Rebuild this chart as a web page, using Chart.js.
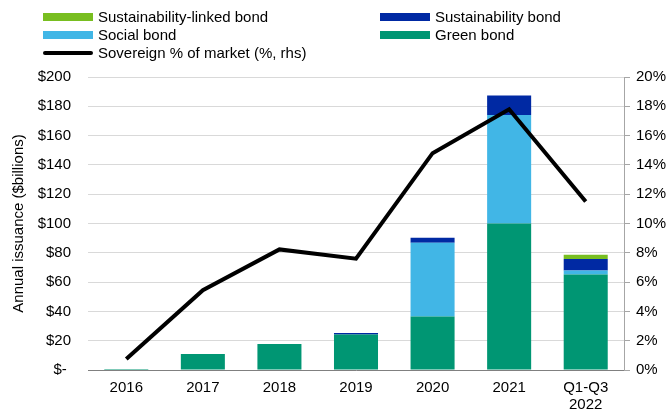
<!DOCTYPE html>
<html>
<head>
<meta charset="utf-8">
<script src="https://cdn.jsdelivr.net/npm/chart.js@4/dist/chart.umd.min.js"></script>
<style>
  html, body { margin: 0; padding: 0; background: #fff; }
  #wrap { position: relative; width: 666px; height: 411px; font-family: "Liberation Sans", Arial, sans-serif; }
  #grafico { position: absolute; left: 0; top: 0; }
  .leg { position: absolute; font-size: 15px; color: #000; line-height: 16px; white-space: nowrap; }
  .leg span.cor { position: absolute; left: 0; top: 4px; width: 50px; height: 8px; }
  .leg span.linha { position: absolute; left: 0; top: 6px; width: 50px; height: 4px; background: #000; border-radius: 2px; }
  .leg span.txt { position: absolute; left: 55px; top: 0; }
</style>
</head>
<body>
<div id="wrap">
  <canvas id="grafico" width="666" height="411"></canvas>
  <div class="leg" style="left:43px; top:9px"><span class="cor" style="background:#78BE20"></span><span class="txt">Sustainability-linked bond</span></div>
  <div class="leg" style="left:380px; top:9px"><span class="cor" style="background:#0029A3"></span><span class="txt">Sustainability bond</span></div>
  <div class="leg" style="left:43px; top:27px"><span class="cor" style="background:#41B6E6"></span><span class="txt">Social bond</span></div>
  <div class="leg" style="left:380px; top:27px"><span class="cor" style="background:#009673"></span><span class="txt">Green bond</span></div>
  <div class="leg" style="left:43px; top:45px"><span class="linha"></span><span class="txt">Sovereign % of market (%, rhs)</span></div>
</div>
<script>
// anos e valores ($ bilhoes)
const anos = ['2016', '2017', '2018', '2019', '2020', '2021', ['Q1-Q3', '2022']];
const green = [0.7, 10.9, 17.7, 24.3, 36.5, 100, 65.2];
const social = [0, 0, 0, 0, 50.3, 74, 2.8];
const sustainability = [0, 0, 0, 0.9, 3.4, 13.3, 7.7];
const sustainabilityLinked = [0, 0, 0, 0, 0, 0, 2.9];
// % soberano do mercado (eixo direito)
const soberano = [0.75, 5.45, 8.23, 7.6, 14.8, 17.8, 11.5];

const fonte = { family: '"Liberation Sans", Arial, sans-serif', size: 15, lineHeight: 1.15 };

const barra = (label, data, cor) => ({
    type: 'bar', label, data, backgroundColor: cor,
    yAxisID: 'y', order: 1, stack: 'emissao',
    barPercentage: 1, categoryPercentage: 0.575
});

new Chart(document.getElementById('grafico'), {
    data: {
        labels: anos,
        datasets: [
            {
                type: 'line', label: 'Sovereign % of market (%, rhs)', data: soberano,
                yAxisID: 'y1', borderColor: '#000', borderWidth: 4,
                pointRadius: 0, tension: 0, order: 0, borderJoinStyle: 'miter'
            },
            barra('Green bond', green, '#009673'),
            barra('Social bond', social, '#41B6E6'),
            barra('Sustainability bond', sustainability, '#0029A3'),
            barra('Sustainability-linked bond', sustainabilityLinked, '#78BE20')
        ]
    },
    options: {
        responsive: false,
        animation: false,
        layout: { padding: { top: 77, left: 0, right: 0, bottom: 0 } },
        plugins: { legend: { display: false }, tooltip: { enabled: false } },
        scales: {
            x: {
                stacked: true,
                grid: { display: false },
                border: { display: true, color: '#808080', width: 1 },
                ticks: { color: '#000', font: fonte, padding: 1, maxRotation: 0, autoSkip: false },
                afterFit: (s) => { s.height = 41; }
            },
            y: {
                position: 'left', stacked: true, min: 0, max: 200,
                grid: { color: '#d9d9d9', drawTicks: false },
                border: { display: false },
                ticks: {
                    stepSize: 20, color: '#000', font: fonte, padding: 17,
                    callback: (v) => v === 0 ? '$- ' : '$' + v
                },
                title: {
                    display: true, text: 'Annual issuance ($billions)',
                    color: '#000', font: fonte, padding: { top: 10, bottom: 0 }
                },
                afterFit: (s) => { s.width = 88; }
            },
            y1: {
                position: 'right', min: 0, max: 20,
                grid: { drawOnChartArea: false, drawTicks: true, tickLength: 6, color: '#a6a6a6' },
                border: { display: true, color: '#a6a6a6', width: 1 },
                ticks: {
                    stepSize: 2, color: '#000', font: fonte, padding: 6,
                    callback: (v) => v + '%'
                },
                afterFit: (s) => { s.width = 42; }
            }
        }
    }
});
</script>
</body>
</html>
